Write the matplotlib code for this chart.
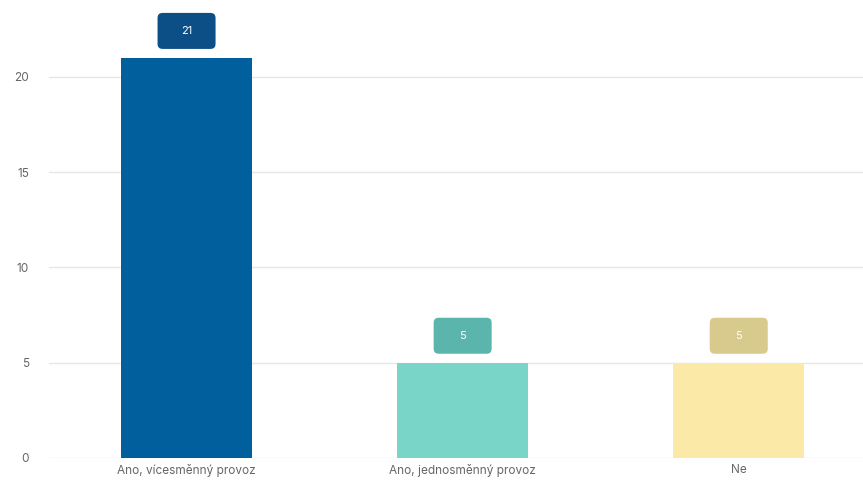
import matplotlib

matplotlib.use("Agg")
import matplotlib.pyplot as plt
from matplotlib.patches import FancyBboxPatch
from matplotlib.transforms import ScaledTranslation

categories = ["Ano, vícesměnný provoz", "Ano, jednosměnný provoz", "Ne"]
values = [21, 5, 5]
bar_colors = ["#005f9c", "#78d5c8", "#fbe9a8"]
label_colors = ["#0b4f86", "#5cb5ad", "#d8c98c"]

plt.rcParams["font.family"] = ["Inter", "DejaVu Sans"]

fig = plt.figure(figsize=(8.63, 4.84), dpi=100)
ax = fig.add_axes([48.5 / 863, 26 / 484, 1 - 48.5 / 863, 1 - 26 / 484])

x = list(range(len(categories)))
ax.bar(x, values, width=0.475, color=bar_colors, zorder=2)

ax.set_xlim(-0.5, 2.45)
ax.set_ylim(0, 24.04)
ax.set_yticks([0, 5, 10, 15, 20])
ax.set_xticks(x)
ax.set_xticklabels(categories)
ax.tick_params(axis="both", length=0, colors="#666666", labelsize=8.5)
ax.tick_params(axis="y", pad=14)
ax.tick_params(axis="x", pad=4)
ax.grid(axis="y", color="#e6e6e6", linewidth=1, zorder=0)
for s in ax.spines.values():
    s.set_visible(False)

# value badges above the bars
for xi, v, c in zip(x, values, label_colors):
    tr = fig.dpi_scale_trans + ScaledTranslation(xi, v, ax.transData)
    box = FancyBboxPatch((-0.28, 0.1), 0.56, 0.34,
                         boxstyle="round,pad=0.01,rounding_size=0.05",
                         transform=tr, facecolor=c, edgecolor="none",
                         clip_on=False, zorder=3)
    ax.add_patch(box)
    ax.text(0, 0.27, str(v), transform=tr, ha="center", va="center",
            color="white", fontsize=8, zorder=4, clip_on=False)

fig.savefig("out.png", dpi=100)
